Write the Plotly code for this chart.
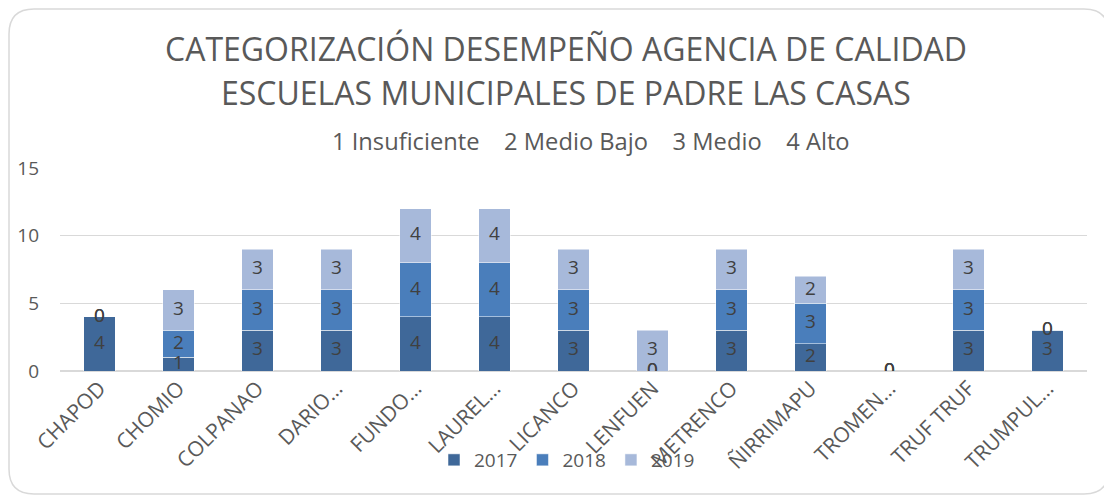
import plotly.graph_objects as go

categories = ["CHAPOD", "CHOMIO", "COLPANAO", "DARIO…", "FUNDO…", "LAUREL…", "LICANCO",
              "LENFUEN", "METRENCO", "ÑIRRIMAPU", "TROMEN…", "TRUF TRUF", "TRUMPUL…"]
series_names = ["2017", "2018", "2019"]
v2017 = [4, 1, 3, 3, 4, 4, 3, 0, 3, 2, 0, 3, 3]
v2018 = [0, 2, 3, 3, 4, 4, 3, 0, 3, 3, 0, 3, 0]
v2019 = [0, 3, 3, 3, 4, 4, 3, 3, 3, 2, 0, 3, 0]
y_ticks = [0, 5, 10, 15]
title_lines = ["CATEGORIZACIÓN DESEMPEÑO AGENCIA DE CALIDAD", "ESCUELAS MUNICIPALES DE PADRE LAS CASAS"]
subtitle = "1 Insuficiente    2 Medio Bajo    3 Medio    4 Alto"

colors = ["#3F6899", "#4A7EBB", "#A7B9DA"]
FONT = "Open Sans"

# page has an 8px body margin: lay out in reference pixels shifted by OFF
OFF = 8
W, H = 1112 - OFF, 496 - OFF
L, R, T, B = 60 - OFF, 25, 168 - OFF, 125
pw, ph = W - L - R, H - T - B

fig = go.Figure()
series = [v2017, v2018, v2019]
base = [0] * len(categories)
lab_x, lab_y, lab_t = [], [], []
for name, vals, col in zip(series_names, series, colors):
    fig.add_trace(go.Bar(name=name, x=categories, y=vals,
                         marker=dict(color=col, line=dict(color="rgba(255,255,255,0.5)", width=1))))
    for i, v in enumerate(vals):
        lab_x.append(categories[i])
        lab_y.append(base[i] + v / 2)
        lab_t.append(str(v))
    base = [b + v for b, v in zip(base, vals)]

fig.add_trace(go.Scatter(x=lab_x, y=lab_y, text=lab_t, mode="text", showlegend=False,
                         textfont=dict(family=FONT, size=19, color="#404040"), hoverinfo="skip"))


def px(x):
    # x in reference page pixels -> paper coordinate
    return (x - OFF - L) / pw


def py(y):
    return (H - B - (y - OFF)) / ph


x0, x1, y0, y1, r = 9, 1109, 9, 494, 25
path = (f"M {px(x0 + r)},{py(y0)} L {px(x1 - r)},{py(y0)} Q {px(x1)},{py(y0)} {px(x1)},{py(y0 + r)} "
        f"L {px(x1)},{py(y1 - r)} Q {px(x1)},{py(y1)} {px(x1 - r)},{py(y1)} "
        f"L {px(x0 + r)},{py(y1)} Q {px(x0)},{py(y1)} {px(x0)},{py(y1 - r)} "
        f"L {px(x0)},{py(y0 + r)} Q {px(x0)},{py(y0)} {px(x0 + r)},{py(y0)} Z")

annotations = [
    dict(text=title_lines[0], xref="paper", yref="paper", x=px(566), y=py(48), xanchor="center",
         yanchor="middle", showarrow=False, font=dict(family=FONT, size=32, color="#595959")),
    dict(text=title_lines[1], xref="paper", yref="paper", x=px(566), y=py(93), xanchor="center",
         yanchor="middle", showarrow=False, font=dict(family=FONT, size=32, color="#595959")),
    dict(text=subtitle, xref="paper", yref="paper", x=px(591), y=py(141), xanchor="center",
         yanchor="middle", showarrow=False, font=dict(family=FONT, size=23.7, color="#595959")),
]

fig.update_layout(
    width=W, height=H,
    margin=dict(l=L, r=R, t=T, b=B, autoexpand=False),
    barmode="stack", bargap=0.6,
    plot_bgcolor="white", paper_bgcolor="white",
    font=dict(family=FONT, color="#595959"),
    annotations=annotations,
    xaxis=dict(tickangle=-45, tickfont=dict(size=21, color="#595959", family=FONT), showgrid=False,
               showline=False, ticks="", automargin=False, range=[-0.5, len(categories) - 0.5]),
    yaxis=dict(range=[0, 15], tickvals=y_ticks, showgrid=True, gridcolor="#D9D9D9", gridwidth=1,
               zeroline=True, zerolinecolor="#D9D9D9", showline=False, ticks="", automargin=False,
               tickfont=dict(size=19, color="#595959", family=FONT), ticklabelstandoff=20),
    legend=dict(orientation="h", x=px(434), xanchor="left", y=py(460), yanchor="middle",
                font=dict(size=19, color="#595959", family=FONT), bgcolor="rgba(0,0,0,0)",
                itemwidth=30, tracegroupgap=0, traceorder="normal"),
    shapes=[dict(type="path", xref="paper", yref="paper", path=path,
                 line=dict(color="#D9D9D9", width=1.5), layer="below")],
)

fig.write_html("out.html")
